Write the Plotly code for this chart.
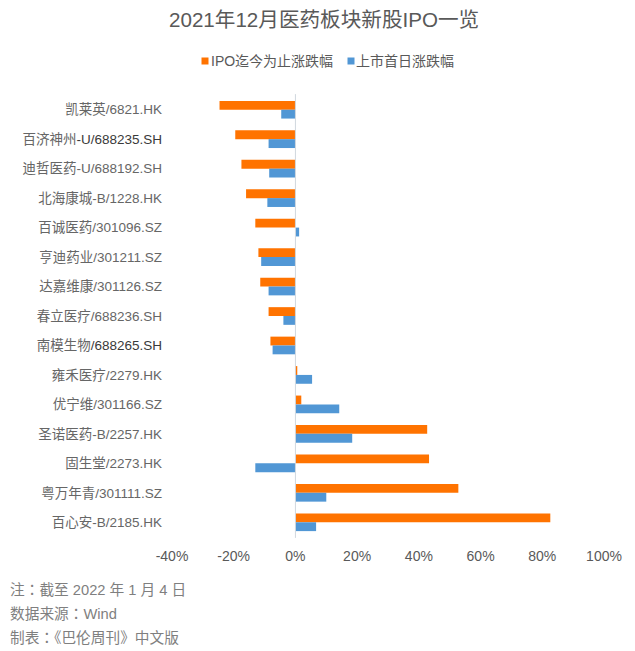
import plotly.graph_objects as go

categories = ["凯莱英/6821.HK", "百济神州-U/688235.SH", "迪哲医药-U/688192.SH", "北海康城-B/1228.HK",
              "百诚医药/301096.SZ", "亨迪药业/301211.SZ", "达嘉维康/301126.SZ", "春立医疗/688236.SH",
              "南模生物/688265.SH", "雍禾医疗/2279.HK", "优宁维/301166.SZ", "圣诺医药-B/2257.HK",
              "固生堂/2273.HK", "粤万年青/301111.SZ", "百心安-B/2185.HK"]
ipo_to_date = [-24.6, -19.5, -17.5, -16, -13, -12, -11.4, -8.7, -8.1, 0.6, 1.9, 42.7, 43.3, 52.8, 82.6]
first_day = [-4.6, -8.7, -8.5, -9.1, 1.2, -11.1, -8.7, -3.9, -7.4, 5.4, 14.2, 18.4, -13, 10, 6.7]
series_names = ["IPO迄今为止涨跌幅", "上市首日涨跌幅"]
x_ticks = [-40, -20, 0, 20, 40, 60, 80, 100]
x_tick_labels = ["-40%", "-20%", "0%", "20%", "40%", "60%", "80%", "100%"]
title_text = "2021年12月医药板块新股IPO一览"
notes = ["注：截至 2022 年 1 月 4 日", "数据来源：Wind", "制表：《巴伦周刊》中文版"]
darker_tail = {"百济神州-U/688235.SH": "-U/688235.SH", "南模生物/688265.SH": "/688265.SH"}
FONT = "Liberation Sans, Noto Sans CJK SC, sans-serif"
NOTE_FONT = "Liberation Sans, Noto Sans CJK TC, sans-serif"
ORANGE, BLUE = "#FF7300", "#5197D5"

# page offset of the plot inside the browser body
OFF = 8
TOP, BOTTOM = 95, 537
L, R, T, B = 172 - OFF, 31, TOP - OFF, 651 - BOTTOM
PW, PH = 432, BOTTOM - TOP


def px_x(p):
    return (p - 172) / PW


def px_y(p):
    return (BOTTOM - p) / PH


def tick_label(c):
    tail = darker_tail.get(c)
    if tail:
        return c.replace(tail, f'<span style="color:#3A3A3A">{tail}</span>')
    return c


fig = go.Figure()
fig.add_bar(name=series_names[0], y=categories, x=ipo_to_date, orientation="h", marker=dict(color=ORANGE, line_width=0))
fig.add_bar(name=series_names[1], y=categories, x=first_day, orientation="h", marker=dict(color=BLUE, line_width=0))

fig.update_layout(
    width=635 - OFF, height=651 - OFF, margin=dict(l=L, r=R, t=T, b=B),
    paper_bgcolor="white", plot_bgcolor="white", barmode="group", bargap=0.4, bargroupgap=0,
    font=dict(family=FONT, color="#595959", size=13), showlegend=False,
    xaxis=dict(range=[-40, 100], tickmode="array", tickvals=x_ticks, ticktext=x_tick_labels,
               showgrid=False, zeroline=False, showline=False, ticks="outside", ticklen=6,
               tickcolor="rgba(0,0,0,0)", tickfont=dict(size=14, color="#595959")),
    yaxis=dict(autorange="reversed", showgrid=False, showline=False, zeroline=False, ticks="",
               tickmode="array", tickvals=categories, ticktext=[tick_label(c) for c in categories],
               tickfont=dict(size=13.5, color="#666666"), automargin=False, ticklabelstandoff=9),
    shapes=[dict(type="line", xref="x", x0=0, x1=0, yref="paper", y0=-0.002, y1=1.002, line=dict(color="#D0D7DE", width=1))],
)


def text(t, x, y, size, color, anchor="left", family=FONT):
    fig.add_annotation(text=t, xref="paper", yref="paper", x=px_x(x), xanchor=anchor, y=px_y(y), yanchor="middle",
                       showarrow=False, font=dict(size=size, color=color, family=family), borderpad=0, borderwidth=0)


text(title_text, 323.5, 20, 20.6, "#595959", "center")
for name, color, sx, tx in [(series_names[0], ORANGE, 201.5, 211), (series_names[1], BLUE, 347.5, 356)]:
    fig.add_shape(type="rect", xref="paper", yref="paper", x0=px_x(sx), x1=px_x(sx + 7), y0=px_y(64.5), y1=px_y(57.5),
                  fillcolor=color, line_width=0)
    text(name, tx, 61, 14, "#595959")
for i, t in enumerate(notes):
    text(t, 10, 590 + i * 24, 14.7, "#7F7F7F", family=NOTE_FONT)
fig.write_html("out.html")
